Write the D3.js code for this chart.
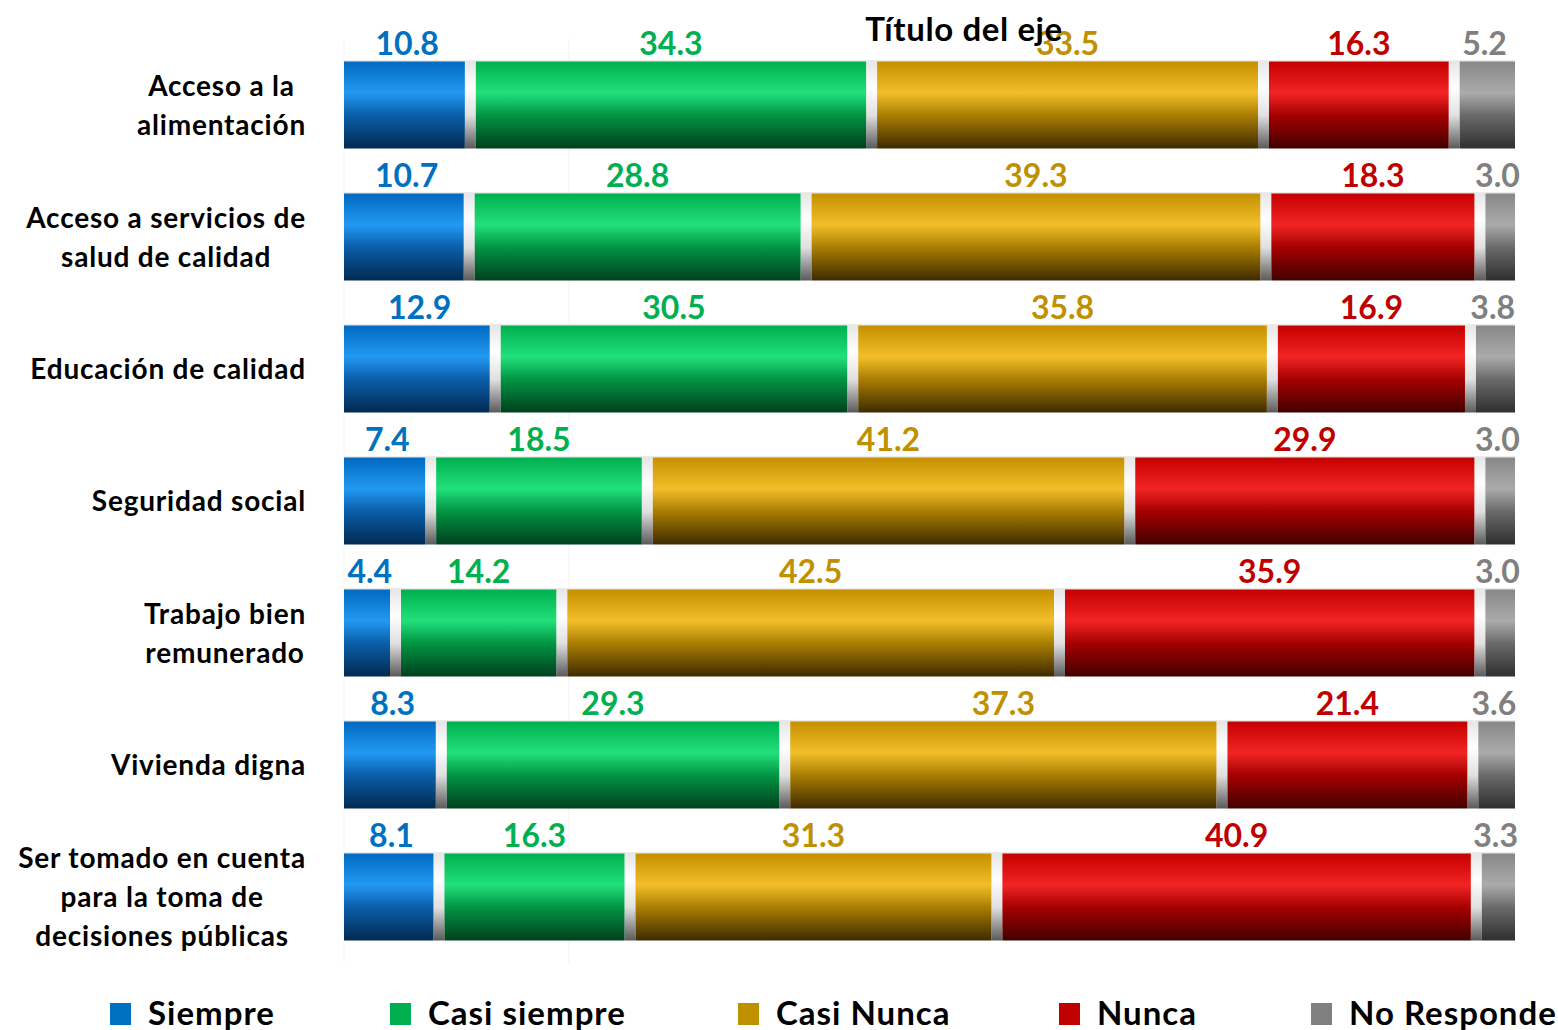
<!DOCTYPE html>
<html>
<head>
<meta charset="utf-8">
<script src="https://cdn.jsdelivr.net/npm/d3@7"></script>
<style>
  body { margin: 0; background: #fff; }
  svg { display: block; font-family: Lato, "Open Sans", sans-serif; font-weight: bold; }
</style>
</head>
<body>
<div id="chart"></div>
<script>
// categories, top to bottom
const categories = [
    ['Acceso a la', 'alimentación'],
    ['Acceso a servicios de', 'salud de calidad'],
    ['Educación de calidad'],
    ['Seguridad social'],
    ['Trabajo bien', 'remunerado'],
    ['Vivienda digna'],
    ['Ser tomado en cuenta', 'para la toma de', 'decisiones públicas']
];

const seriesNames = ['Siempre', 'Casi siempre', 'Casi Nunca', 'Nunca', 'No Responde'];

// one array per series, same order as categories
const siempre     = [10.8, 10.7, 12.9, 7.4, 4.4, 8.3, 8.1];
const casiSiempre = [34.3, 28.8, 30.5, 18.5, 14.2, 29.3, 16.3];
const casiNunca   = [33.5, 39.3, 35.8, 41.2, 42.5, 37.3, 31.3];
const nunca       = [16.3, 18.3, 16.9, 29.9, 35.9, 21.4, 40.9];
const noResponde  = [5.2, 3.0, 3.8, 3.0, 3.0, 3.6, 3.3];

const axisTitle = 'Título del eje';

const seriesValues = [siempre, casiSiempre, casiNunca, nunca, noResponde];
const keys = ['s0', 's1', 's2', 's3', 's4'];

// colours: flat (legend/labels) and gradient stops (top, highlight, mid, bottom)
const labelColors = ['#0070C0', '#00B050', '#BF9000', '#C00000', '#808080'];
const gradStops = [
    ['#0169c0', '#2299f2', '#0a5ea8', '#012a52'],
    ['#00b04e', '#22e07c', '#019443', '#00401d'],
    ['#c49000', '#f2bf2a', '#a97d02', '#3e2b00'],
    ['#c40000', '#f22424', '#a50000', '#420000'],
    ['#878787', '#ababab', '#6a6a6a', '#2f2f2f']
];

const width = 1558, height = 1030;
const plotLeft = 344, plotRight = 1515;
const plotTop = 61 - 22, step = 132, barH = 87;
const gap = 11;

const rows = categories.map((c, i) => {
    const r = { idx: i };
    keys.forEach((k, j) => r[k] = seriesValues[j][i]);
    return r;
});

const stacked = d3.stack().keys(keys).offset(d3.stackOffsetExpand)(rows);

const x = d3.scaleLinear().domain([0, 1]).range([plotLeft, plotRight]);
const y = d3.scaleBand()
    .domain(d3.range(categories.length))
    .range([plotTop, plotTop + step * categories.length])
    .paddingInner((step - barH) / step)
    .paddingOuter((step - barH) / step / 2);

const svg = d3.select('#chart').append('svg')
    .attr('width', width)
    .attr('height', height);

const defs = svg.append('defs');
gradStops.forEach((stops, i) => {
    const g = defs.append('linearGradient')
        .attr('id', 'grad' + i)
        .attr('x1', 0).attr('y1', 0).attr('x2', 0).attr('y2', 1);
    [0, 0.36, 0.62, 1].forEach((o, j) => {
        g.append('stop').attr('offset', o).attr('stop-color', stops[j]);
    });
});
const sep = defs.append('linearGradient')
    .attr('id', 'sepGrad')
    .attr('x1', 0).attr('y1', 0).attr('x2', 0).attr('y2', 1);
sep.append('stop').attr('offset', 0).attr('stop-color', '#e6e6e6');
sep.append('stop').attr('offset', 0.3).attr('stop-color', '#ffffff');
sep.append('stop').attr('offset', 0.62).attr('stop-color', '#e0e0e0');
sep.append('stop').attr('offset', 1).attr('stop-color', '#5a5a5a');

// faint gridline
svg.append('g')
    .selectAll('line')
    .data([0, 0.192])
    .enter()
    .append('line')
    .attr('x1', d => x(d)).attr('x2', d => x(d))
    .attr('y1', plotTop).attr('y2', plotTop + step * categories.length)
    .attr('stroke', '#f4f4f4')
    .attr('stroke-width', 1);

// separators between segments
const bars = svg.append('g');
rows.forEach((r, i) => {
    const by = y(i);
    bars.append('rect')
        .attr('x', plotLeft)
        .attr('y', by - 1)
        .attr('width', plotRight - plotLeft)
        .attr('height', 1)
        .attr('fill', '#d8d8d8');
    stacked.slice(0, -1).forEach(s => {
        bars.append('rect')
            .attr('x', x(s[i][1]) - gap / 2)
            .attr('y', by)
            .attr('width', gap)
            .attr('height', y.bandwidth())
            .attr('fill', 'url(#sepGrad)');
    });
});

// segments
stacked.forEach((s, j) => {
    const last = j === stacked.length - 1;
    bars.append('g')
        .selectAll('rect')
        .data(s)
        .enter()
        .append('rect')
        .attr('x', d => x(d[0]) + (j === 0 ? 0 : gap / 2))
        .attr('y', (d, i) => y(i))
        .attr('width', d => x(d[1]) - x(d[0]) - (j === 0 ? 0 : gap / 2) - (last ? 0 : gap / 2))
        .attr('height', y.bandwidth())
        .attr('fill', 'url(#grad' + j + ')');
});

// value labels
stacked.forEach((s, j) => {
    svg.append('g')
        .selectAll('text')
        .data(s)
        .enter()
        .append('text')
        .attr('x', d => (x(d[0]) + x(d[1])) / 2)
        .attr('y', (d, i) => y(i) - 7)
        .attr('text-anchor', 'middle')
        .attr('font-size', 32)
        .attr('fill', labelColors[j])
        .text(d => seriesValues[j][d.data.idx].toFixed(1));
});

// category labels (centered lines, block right-aligned)
const catG = svg.append('g');
categories.forEach((lines, i) => {
    const cy = y(i) + y.bandwidth() / 2;
    const lh = 39;
    const g = catG.append('g');
    const texts = lines.map((t, k) => g.append('text')
        .attr('y', cy + (k - (lines.length - 1) / 2) * lh + 10)
        .attr('font-size', 28)
        .attr('letter-spacing', 0.8)
        .attr('fill', '#000')
        .attr('text-anchor', 'middle')
        .text(t));
    const maxW = d3.max(texts, t => t.node().getComputedTextLength());
    texts.forEach(t => t.attr('x', 306 - maxW / 2));
});

// axis title
svg.append('text')
    .attr('x', 964)
    .attr('y', 41)
    .attr('text-anchor', 'middle')
    .attr('font-size', 33)
    .attr('letter-spacing', 0.6)
    .attr('fill', '#000')
    .text(axisTitle);

// legend
const legendX = [110, 390, 738, 1059, 1311];
const legend = svg.append('g');
seriesNames.forEach((name, j) => {
    legend.append('rect')
        .attr('x', legendX[j])
        .attr('y', 1003)
        .attr('width', 21)
        .attr('height', 22)
        .attr('fill', labelColors[j]);
    legend.append('text')
        .attr('x', legendX[j] + 38)
        .attr('y', 1025)
        .attr('font-size', 33)
        .attr('letter-spacing', 1)
        .attr('fill', '#000')
        .text(name);
});
</script>
</body>
</html>
